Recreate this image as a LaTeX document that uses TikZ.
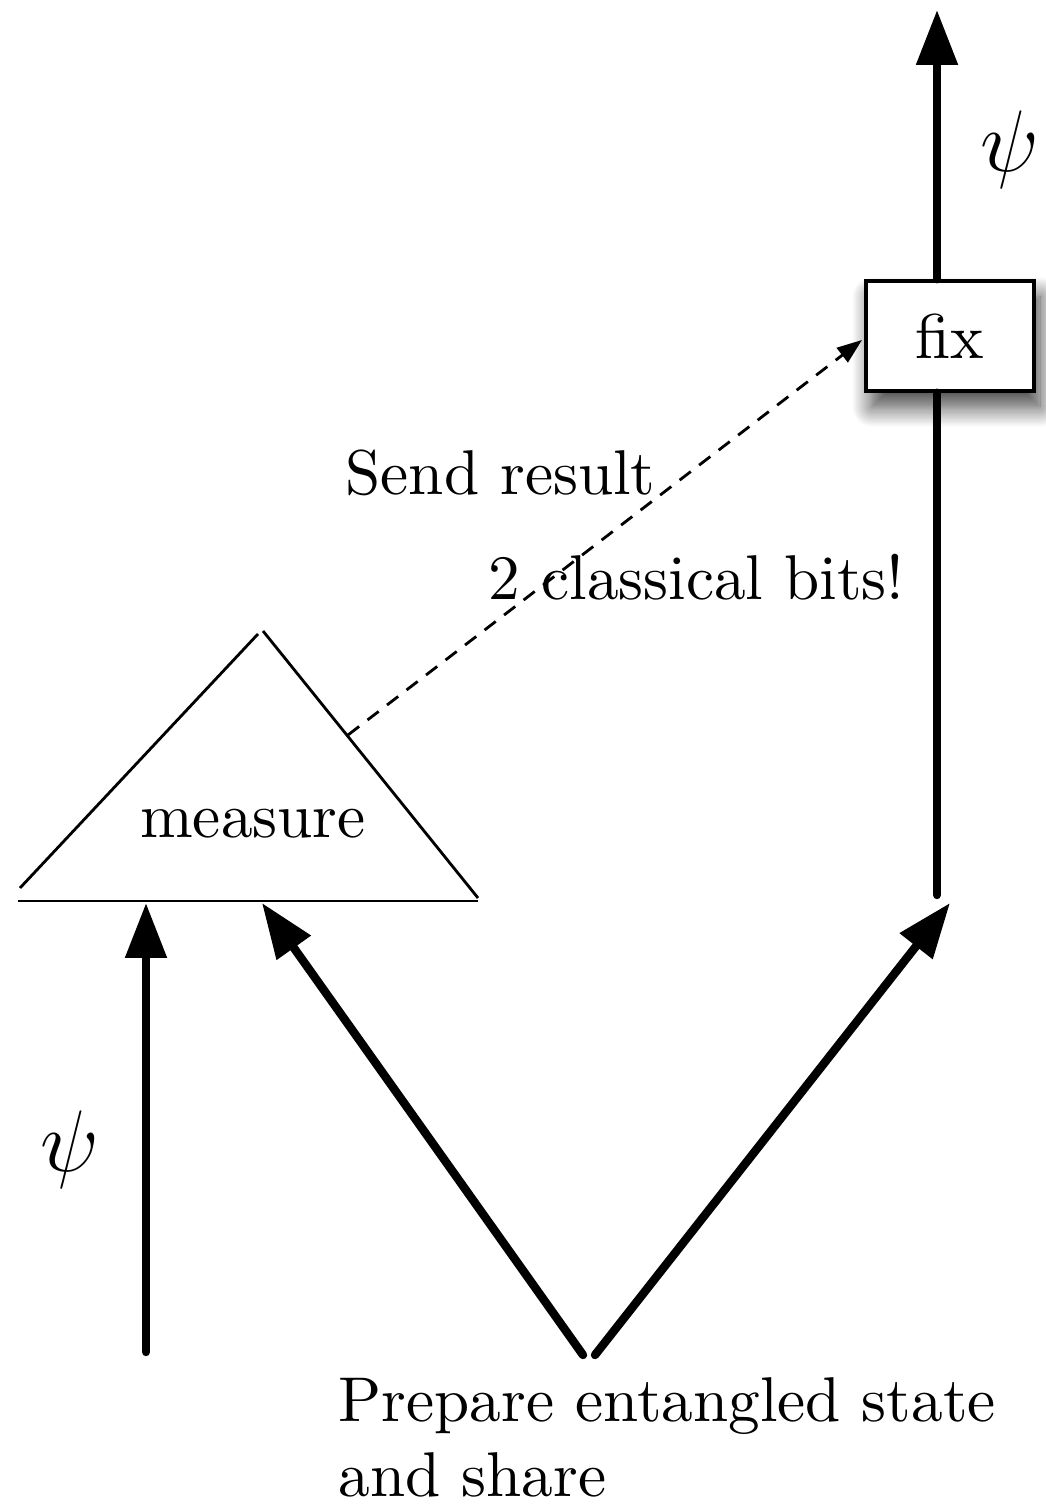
\documentclass[tikz,border=0pt]{standalone}
\usepackage{fontspec}
\setmainfont{lmroman10-regular.otf}
\usetikzlibrary{arrows.meta,shadows.blur}
\begin{document}
\begin{tikzpicture}[
    qwire/.style={line width=2.4pt, line cap=round, -{Triangle[length=0.55cm,width=0.4cm]}},
    qline/.style={line width=2.4pt, line cap=round},
    thin line/.style={line width=0.8pt},
    txt/.style={font=\fontsize{18}{21.3}\selectfont, inner sep=0pt},
    psi/.style={font=\fontsize{23}{27}\selectfont, inner sep=0pt}
  ]
    \useasboundingbox (0, 0) rectangle (10.45, 15.08);
    %\draw[lightgray] (0, 0) grid (10, 15);
    % measurement triangle
    \coordinate (baseL) at (0.18, 6.07);
    \coordinate (baseR) at (4.78, 6.07);
    \draw[thin line] (baseL) -- (baseR);
    \draw[thin line] (0.20, 6.20) -- (2.58, 8.74);
    \draw[thin line] (2.63, 8.77) -- (4.78, 6.10);
    \node[txt, anchor=base] (meas) at (2.53, 6.70) {measure};
    % fix box
    \node[draw, line width=1pt, fill=white, minimum width=1.68cm, minimum height=1.10cm,
          blur shadow={shadow xshift=0.6mm, shadow yshift=-1.6mm, shadow blur radius=2mm,
                       shadow opacity=75, shadow blur steps=16},
          txt] (fix) at (9.50, 11.72) {fix};
    % input state
    \coordinate (in) at (1.46, 1.56);
    \coordinate (inEnd) at (1.46, 6.05);
    \draw[qwire] (in) -- (inEnd);
    \node[psi] (psiIn) at (0.70, 3.58) {$\psi$};
    % entangled pair
    \coordinate (srcL) at (5.83, 1.53);
    \coordinate (srcR) at (5.95, 1.53);
    \coordinate (measEnd) at (2.62, 6.05);
    \coordinate (bobEnd) at (9.50, 6.05);
    \draw[qwire] (srcL) -- (measEnd);
    \draw[qwire] (srcR) -- (bobEnd);
    \coordinate (bob) at (9.37, 6.13);
    \draw[qline] (bob) -- (bob |- fix.south);
    % output state
    \coordinate (out) at (9.37, 14.98);
    \draw[qwire] (out |- fix.north) -- (out);
    \node[psi] (psiOut) at (10.10, 13.58) {$\psi$};
    % classical channel
    \coordinate (send) at (3.48, 7.73);
    \draw[thin line, dash pattern=on 4pt off 3pt, -{Triangle[length=0.25cm,width=0.18cm]}]
        (send) -- (8.62, 11.68);
    \node[txt, anchor=base west] (sendLbl) at (3.45, 10.13) {Send result};
    \node[txt, anchor=base west] (bitsLbl) at (4.88, 9.08) {2 classical bits!};
    \node[txt, anchor=north west, align=left] (prepLbl) at (3.38, 1.31)
        {Prepare entangled state\\and share};
\end{tikzpicture}
\end{document}
